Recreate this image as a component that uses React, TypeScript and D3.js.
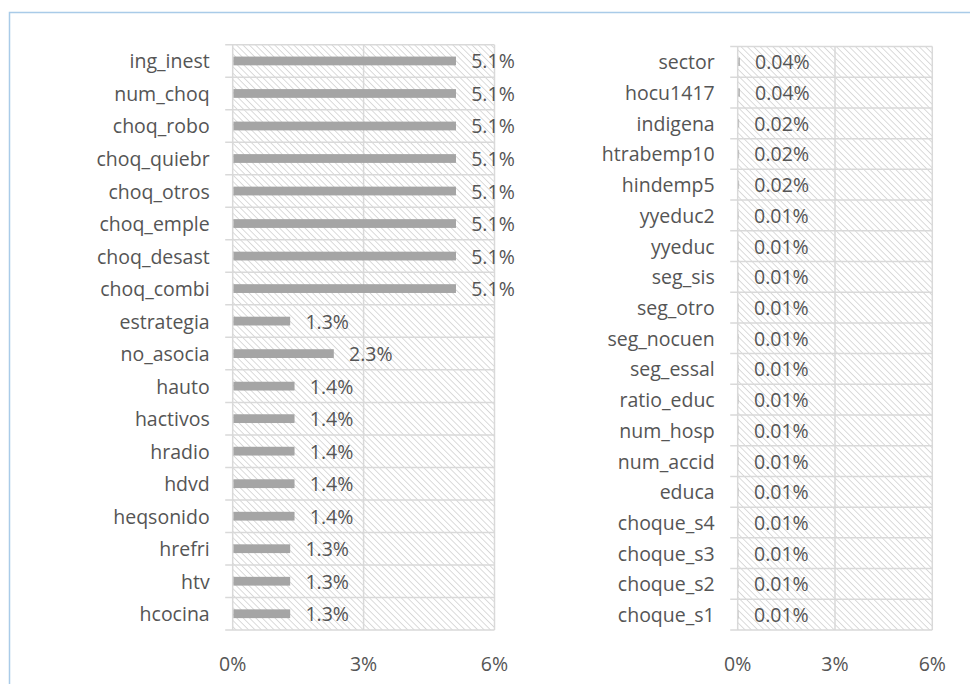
import React from "react";
import * as d3 from "d3";

// Left panel: larger contributions
const leftCategories = [
  "ing_inest", "num_choq", "choq_robo", "choq_quiebr", "choq_otros", "choq_emple",
  "choq_desast", "choq_combi", "estrategia", "no_asocia", "hauto", "hactivos",
  "hradio", "hdvd", "heqsonido", "hrefri", "htv", "hcocina",
];
const leftValues = [
  0.051, 0.051, 0.051, 0.051, 0.051, 0.051, 0.051, 0.051, 0.013, 0.023, 0.014, 0.014,
  0.014, 0.014, 0.014, 0.013, 0.013, 0.013,
];

// Right panel: small contributions
const rightCategories = [
  "sector", "hocu1417", "indigena", "htrabemp10", "hindemp5", "yyeduc2", "yyeduc",
  "seg_sis", "seg_otro", "seg_nocuen", "seg_essal", "ratio_educ", "num_hosp",
  "num_accid", "educa", "choque_s4", "choque_s3", "choque_s2", "choque_s1",
];
const rightValues = [
  0.0004, 0.0004, 0.0002, 0.0002, 0.0002, 0.0001, 0.0001, 0.0001, 0.0001, 0.0001,
  0.0001, 0.0001, 0.0001, 0.0001, 0.0001, 0.0001, 0.0001, 0.0001, 0.0001,
];

const tickValues = [0, 0.03, 0.06];

const FONT = "'Open Sans', sans-serif";
const FS = 19.5;
const TEXT = "#555555";
const GRID = "#d9d9d9";
const BAR = "#a5a5a5";

type PanelProps = {
  categories: string[];
  values: number[];
  x0: number;
  x1: number;
  y0: number;
  y1: number;
  fmt: (v: number) => string;
  id: string;
};

function Panel({ categories, values, x0, x1, y0, y1, fmt, id }: PanelProps) {
  const x = d3.scaleLinear().domain([0, 0.06]).range([x0, x1]);
  const y = d3.scaleBand<string>().domain(categories).range([y0, y1]).padding(0);
  const bw = y.bandwidth();
  const barH = bw * 0.27;
  const edges = categories.map((c) => y(c)!).concat([y1]);

  return (
    <g>
      <rect x={x0} y={y0} width={x1 - x0} height={y1 - y0} fill={`url(#${id})`} />
      {edges.map((e, i) => (
        <line key={"h" + i} x1={x0 - 7.5} x2={x1} y1={e} y2={e} stroke={GRID} strokeWidth={1.5} />
      ))}
      {tickValues.map((t) => (
        <line key={"v" + t} x1={x(t)} x2={x(t)} y1={y0} y2={y1} stroke={GRID} strokeWidth={1.5} />
      ))}
      {categories.map((c, i) => (
        <g key={c}>
          <rect
            x={x(0) + 0.75}
            y={y(c)! + bw / 2 - barH / 2}
            width={Math.max(0, x(values[i]) - x(0))}
            height={barH}
            fill={BAR}
          />
          <text
            x={x0 - 23}
            y={y(c)! + bw / 2}
            textAnchor="end"
            dominantBaseline="central"
            fontFamily={FONT}
            fontSize={FS}
            fill={TEXT}
          >
            {c}
          </text>
          <text
            x={x(values[i]) + 16}
            y={y(c)! + bw / 2}
            textAnchor="start"
            dominantBaseline="central"
            fontFamily={FONT}
            fontSize={FS}
            fill={TEXT}
          >
            {fmt(values[i])}
          </text>
        </g>
      ))}
      {tickValues.map((t) => (
        <text
          key={"t" + t}
          x={x(t)}
          y={663}
          textAnchor="middle"
          dominantBaseline="central"
          fontFamily={FONT}
          fontSize={FS}
          fill={TEXT}
        >
          {d3.format(".0%")(t)}
        </text>
      ))}
    </g>
  );
}

export default function App() {
  return (
    <svg
      width={970}
      height={684}
      style={{ position: "absolute", left: 0, top: 0, background: "#fff" }}
    >
      <defs>
        <pattern
          id="hatch"
          width={4.5}
          height={4.5}
          patternUnits="userSpaceOnUse"
          patternTransform="rotate(-45)"
        >
          <line x1={0} y1={0} x2={0} y2={4.5} stroke="#cfcfcf" strokeWidth={1.5} />
        </pattern>
      </defs>
      <rect x={0} y={0} width={970} height={684} fill="#fff" />
      <rect x={9.5} y={12.5} width={1200} height={1200} fill="none" stroke="#a9cbe8" strokeWidth={1.5} />
      <Panel
        id="hatch"
        categories={leftCategories}
        values={leftValues}
        x0={232.7}
        x1={494.5}
        y0={44.7}
        y1={630}
        fmt={d3.format(".1%")}
      />
      <Panel
        id="hatch"
        categories={rightCategories}
        values={rightValues}
        x0={737.7}
        x1={932.3}
        y0={46.5}
        y1={630}
        fmt={d3.format(".2%")}
      />
    </svg>
  );
}
